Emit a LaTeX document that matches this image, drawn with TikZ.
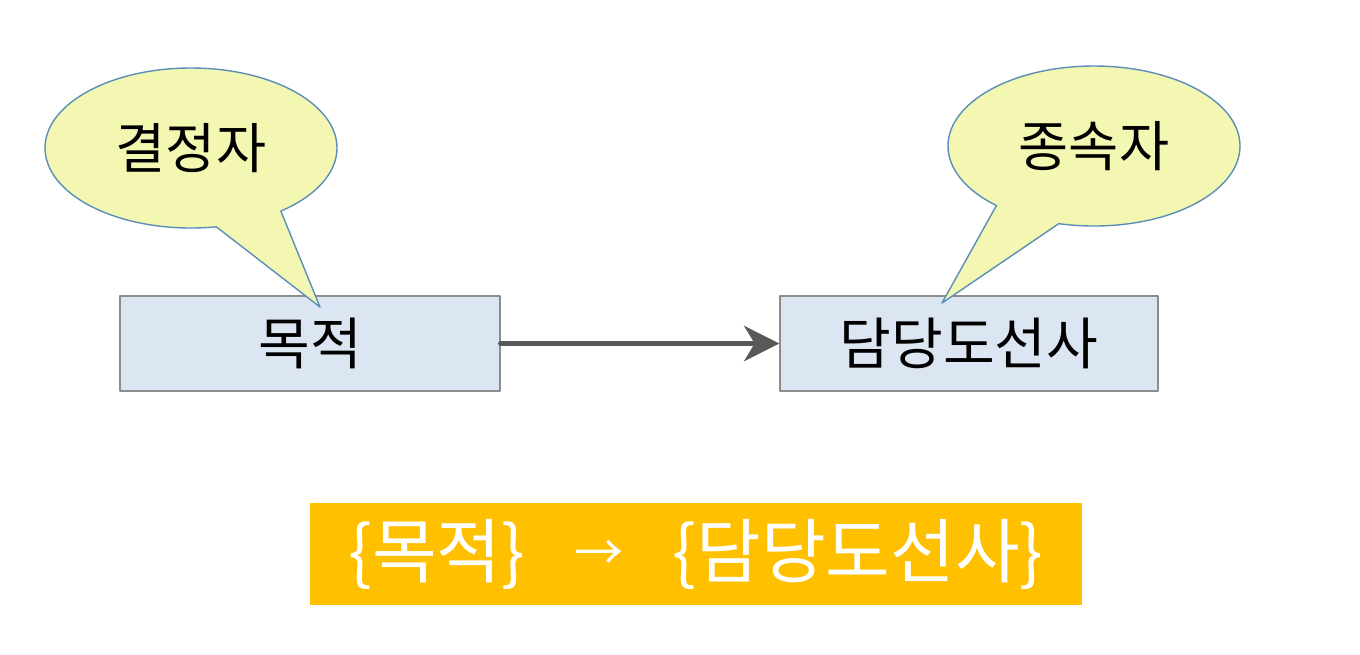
\documentclass[tikz,border=0pt]{standalone}
\usepackage{fontspec}
\setmainfont{Noto Sans CJK KR}
\usetikzlibrary{shapes.callouts,arrows.meta}
\definecolor{boxblue}{HTML}{DCE6F2}
\definecolor{boxline}{HTML}{8C8C8C}
\definecolor{bubble}{HTML}{F4F7B2}
\definecolor{bubbleline}{HTML}{5B8FB9}
\definecolor{arrowgray}{HTML}{595959}
\definecolor{gold}{HTML}{FFC000}
\tikzset{
  attr/.style={draw=boxline, fill=boxblue, minimum width=3.8cm, minimum height=0.95cm, inner sep=0pt, font=\fontsize{16}{18}\selectfont},
  bubbletext/.style={ellipse callout, draw=bubbleline, fill=bubble, minimum width=2.92cm, minimum height=1.6cm, inner sep=0pt, callout pointer arc=28, font=\fontsize{15.5}{18}\selectfont},
}
\begin{document}
\begin{tikzpicture}[scale=1, line join=round, line cap=round, >=Stealth]
	\useasboundingbox (0,0) rectangle (13.6,-6.54);
	\node[attr] (mokjeok) at (3.1,-3.435) {목적};
	\node[attr, minimum width=3.78cm] (damdang) at (9.69,-3.435) {담당도선사};
	\draw[->, arrowgray, line width=1.5pt, -{Stealth[length=10pt, width=10pt, inset=3pt]}] (mokjeok) -- (damdang);
	\coordinate (tipL) at (3.2,-3.07);
	\coordinate (tipR) at (9.42,-3.03);
	\node[bubbletext, callout absolute pointer=(tipL)] (gyeoljeong) at (1.91,-1.48) {결정자};
	\node[bubbletext, callout absolute pointer=(tipR)] (jongsok) at (10.94,-1.46) {종속자};
	\node[fill=gold, text=white, minimum width=7.72cm, minimum height=1.02cm, inner sep=0pt, font=\fontsize{20}{22}\selectfont] (fd) at (6.96,-5.54) {\{목적\}\hspace{14pt}\raisebox{1.8pt}{\fontsize{14}{14}\selectfont →}\hspace{14pt}\{담당도선사\}};
\end{tikzpicture}
\end{document}
